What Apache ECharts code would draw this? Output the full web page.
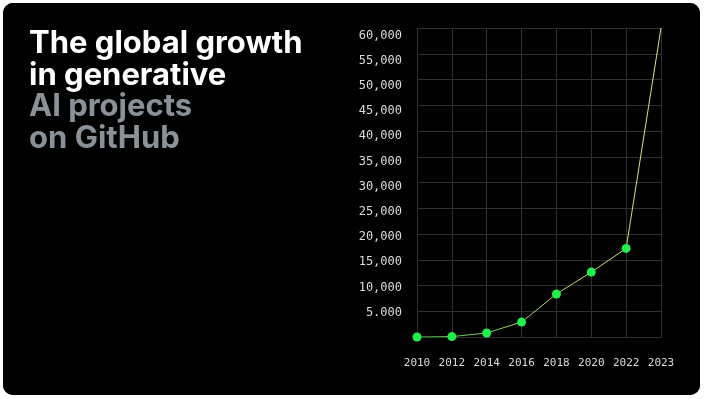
<!DOCTYPE html>
<html>
<head>
<meta charset="utf-8">
<script src="https://cdn.jsdelivr.net/npm/echarts@6/dist/echarts.min.js"></script>
<style>
  html, body { margin: 0; padding: 0; background: #fff; }
  #wrap {
    position: absolute; left: 3px; top: 3px;
    width: 697px; height: 392px;
    background: #000; border-radius: 10px; overflow: hidden;
  }
  #chart { width: 697px; height: 392px; }
</style>
</head>
<body>
<div id="wrap"><div id="chart"></div></div>
<script>
// data
const years = ['2010', '2012', '2014', '2016', '2018', '2020', '2022', '2023']
const projects = [0, 80, 780, 2900, 8350, 12600, 17200, 60000]
// tick labels as printed (the 5,000 one really uses a dot)
const tickValues = [5000, 10000, 15000, 20000, 25000, 30000, 35000, 40000, 45000, 50000, 55000, 60000]
const tickLabels = ['5.000', '10,000', '15,000', '20,000', '25,000', '30,000',
  '35,000', '40,000', '45,000', '50,000', '55,000', '60,000']
const titleWhite = ['The global growth', 'in generative']
const titleGrey = ['AI projects', 'on GitHub']

let myChart = echarts.init(document.getElementById('chart'))

const mono = 'DejaVu Sans Mono'
const gridColor = '#303030'

const option = {
  backgroundColor: '#000',
  animation: false,
  title: {
    left: 21,
    top: 20,
    text: titleWhite.map(t => '{w|' + t + '}').join('\n') + '\n' +
          titleGrey.map(t => '{g|' + t + '}').join('\n'),
    textStyle: {
      rich: {
        w: { color: '#fff', fontFamily: 'Inter', fontWeight: 700, fontSize: 31, lineHeight: 31.5 },
        g: { color: '#8b9199', fontFamily: 'Inter', fontWeight: 700, fontSize: 31, lineHeight: 31.5 }
      }
    }
  },
  grid: { left: 414, right: 39, top: 25, bottom: 58 },
  xAxis: {
    type: 'category',
    data: years,
    boundaryGap: false,
    axisLine: { show: true, lineStyle: { color: gridColor } },
    axisTick: { show: false },
    axisLabel: { color: '#dcdcdc', fontFamily: mono, fontSize: 11, margin: 21 },
    splitLine: { show: true, lineStyle: { color: gridColor, width: 1 } }
  },
  yAxis: [{
    // gridlines
    type: 'value',
    min: 0,
    max: 60000,
    interval: 5000,
    axisLine: { show: false },
    axisTick: { show: false },
    axisLabel: { show: false },
    splitLine: { lineStyle: { color: gridColor, width: 1 } }
  }, {
    // labels sit on a slightly tighter scale than the gridlines in the original
    type: 'value',
    position: 'left',
    min: 180,
    max: 61500,
    axisLine: { show: false },
    axisTick: { show: false },
    splitLine: { show: false },
    axisLabel: {
      color: '#dcdcdc', fontFamily: mono, fontSize: 12, margin: 15,
      customValues: tickValues,
      formatter: v => tickLabels[tickValues.indexOf(v)] || ''
    }
  }],
  series: [{
    type: 'line',
    yAxisIndex: 0,
    data: projects.map((v, i) => ({
      value: v,
      symbolSize: i === projects.length - 1 ? 0 : 9
    })),
    symbol: 'circle',
    itemStyle: { color: '#1ff04a', borderWidth: 0 },
    lineStyle: {
      width: 1,
      color: new echarts.graphic.LinearGradient(0, 0, 1, 0, [
        { offset: 0, color: '#46c94c' },
        { offset: 0.5, color: '#a8d85a' },
        { offset: 1, color: '#dcea72' }
      ])
    }
  }]
}
myChart.setOption(option)
</script>
</body>
</html>
